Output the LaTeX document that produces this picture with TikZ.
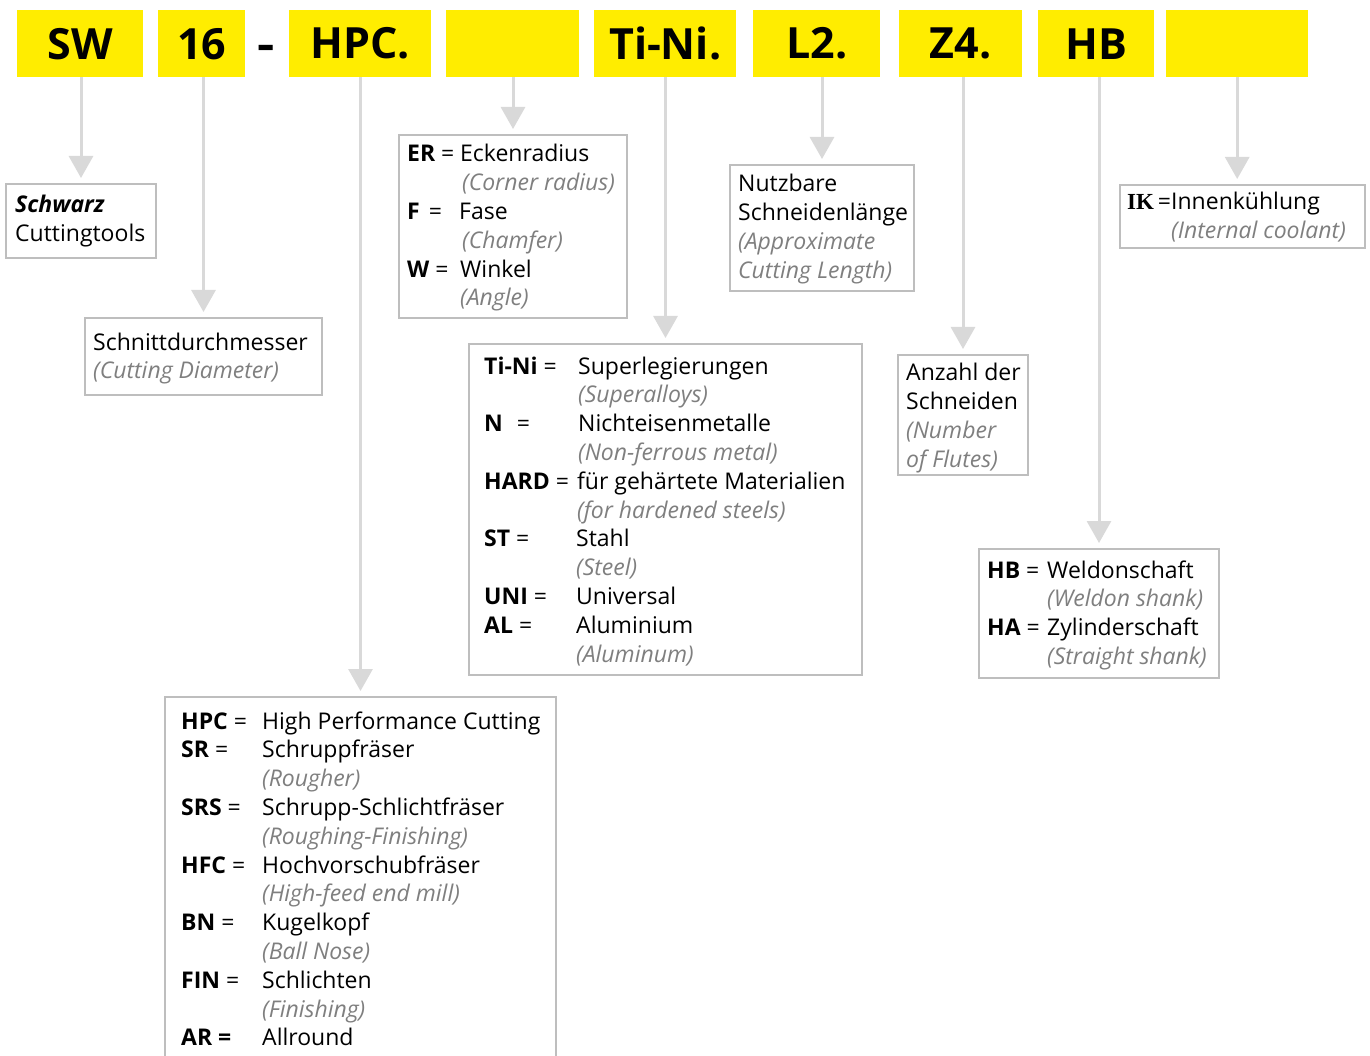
\documentclass[tikz,border=0pt]{standalone}
\usepackage{fontspec}
\setmainfont{Open Sans}
\newfontfamily\hdrfont{Open Sans}
\newfontfamily\ikfont{Liberation Serif}
\usetikzlibrary{arrows.meta}
\definecolor{yel}{HTML}{FFED00}
\definecolor{boxgrey}{HTML}{BEBEBE}
\definecolor{linegrey}{HTML}{D9D9D9}
\definecolor{engrey}{HTML}{7F7F7F}
\newcommand\en[1]{{\color{engrey}\itshape #1}}
\newcommand\kk[2]{\makebox[#1][l]{#2}}
\begin{document}
\begin{tikzpicture}[x=1pt,y=-1pt,
  hdr/.style={fill=yel, inner sep=0, anchor=north west, minimum height=67pt,
    font=\hdrfont\bfseries\fontsize{43}{43}\selectfont, text=black},
  box/.style={draw=boxgrey, line width=2pt, inner sep=0, anchor=north west, fill=white},
  txt/.style={inner sep=0, anchor=base west, font=\fontsize{23}{28.8}\selectfont},
  conn/.style={draw=linegrey, line width=3pt, -{Triangle[width=24pt,length=22pt]}, shorten >=5pt}]
\clip (0,0) rectangle (1370,1056);
\fill[white] (0,0) rectangle (1370,1056);

% header
\node[hdr, minimum width=126pt] (hSW) at (17,10) {SW};
\node[hdr, minimum width=87pt] (h16) at (158,10) {16};
\node[inner sep=0, anchor=base, font=\hdrfont\bfseries\fontsize{43}{43}\selectfont] (hdash) at (266.5,60) {\scalebox{1.25}[1]{-}};
\node[hdr, minimum width=142pt] (hHPC) at (289,10) {HPC.};
\node[hdr, minimum width=133pt] (hB1) at (446,10) {};
\node[hdr, minimum width=142pt] (hTN) at (594,10) {Ti-Ni.};
\node[hdr, minimum width=127pt] (hL2) at (753,10) {L2.};
\node[hdr, minimum width=123pt] (hZ4) at (899,10) {Z4.};
\node[hdr, minimum width=116pt] (hHB) at (1038,10) {HB};
\node[hdr, minimum width=142pt] (hB2) at (1166,10) {};

% boxes
\node[box, minimum width=150pt, minimum height=74pt] (bSW) at (5,183) {};
\node[box, minimum width=237pt, minimum height=77pt] (b16) at (84,317) {};
\node[box, minimum width=391pt, minimum height=380pt] (bHPC) at (164,696) {};
\node[box, minimum width=228pt, minimum height=183pt] (bER) at (398,134) {};
\node[box, minimum width=393pt, minimum height=331pt] (bTN) at (468,343) {};
\node[box, minimum width=184pt, minimum height=126pt] (bL2) at (729,164) {};
\node[box, minimum width=130pt, minimum height=120pt] (bZ4) at (897,354) {};
\node[box, minimum width=240pt, minimum height=129pt] (bHB) at (978,548) {};
\node[box, minimum width=245pt, minimum height=63pt] (bIK) at (1119,184) {};

% connectors
\draw[conn] (hSW.south -| bSW.north) -- (bSW.north);
\draw[conn] (h16.south -| b16.north) -- (b16.north);
\draw[conn] (hHPC.south -| bHPC.north) -- (bHPC.north);
\draw[conn] (hB1.south -| bER.north) -- (bER.north);
\draw[conn] (hTN.south -| bTN.north) -- (bTN.north);
\draw[conn] (hL2.south -| bL2.north) -- (bL2.north);
\draw[conn] (hZ4.south -| bZ4.north) -- (bZ4.north);
\draw[conn] (hHB.south -| bHB.north) -- (bHB.north);
\draw[conn] (hB2.south) -- (hB2.south |- bIK.north);

% texts
\node[txt] (tSW) at (15,213) {\begin{tabular}[t]{@{}l@{}}\textbf{\textit{Schwarz}}\\Cuttingtools\end{tabular}};
\node[txt] (t16) at (93,350) {\begin{tabular}[t]{@{}l@{}}Schnittdurchmesser\\\en{(Cutting Diameter)}\end{tabular}};
\node[txt] (tER) at (407,162) {\begin{tabular}[t]{@{}l@{}}\kk{53pt}{\textbf{ER} =}Eckenradius\\
  \kk{55pt}{}\en{(Corner radius)}\\
  \kk{52pt}{\textbf{F}\hspace{9pt}=}Fase\\
  \kk{55pt}{}\en{(Chamfer)}\\
  \kk{53pt}{\textbf{W} =}Winkel\\
  \kk{53pt}{}\en{(Angle)}\end{tabular}};
\node[txt] (tL2) at (738,192) {\begin{tabular}[t]{@{}l@{}}Nutzbare\\Schneidenlänge\\\en{(Approximate}\\\en{Cutting Length)}\end{tabular}};
\node[txt] (tZ4) at (906,381) {\begin{tabular}[t]{@{}l@{}}Anzahl der\\Schneiden\\\en{(Number}\\\en{of Flutes)}\end{tabular}};
\node[txt] (tIK) at (1127,210) {\begin{tabular}[t]{@{}l@{}}\kk{44pt}{{\ikfont\bfseries IK}\,=}Innenkühlung\\
  \kk{44pt}{}\en{(Internal coolant)}\end{tabular}};
\node[txt] (tTN) at (484,374) {\begin{tabular}[t]{@{}l@{}}\kk{94pt}{\textbf{Ti-Ni} =}Superlegierungen\\
  \kk{94pt}{}\en{(Superalloys)}\\
  \kk{94pt}{\textbf{N}\hspace{14pt}=}Nichteisenmetalle\\
  \kk{94pt}{}\en{(Non-ferrous metal)}\\
  \kk{93pt}{\textbf{HARD} =}für gehärtete Materialien\\
  \kk{93pt}{}\en{(for hardened steels)}\\
  \kk{92pt}{\textbf{ST} =}Stahl\\
  \kk{92pt}{}\en{(Steel)}\\
  \kk{92pt}{\textbf{UNI} =}Universal\\
  \kk{92pt}{\textbf{AL} =}Aluminium\\
  \kk{92pt}{}\en{(Aluminum)}\end{tabular}};
\node[txt] (tHB) at (987,578) {\begin{tabular}[t]{@{}l@{}}\kk{60pt}{\textbf{HB} =}Weldonschaft\\
  \kk{60pt}{}\en{(Weldon shank)}\\
  \kk{60pt}{\textbf{HA} =}Zylinderschaft\\
  \kk{60pt}{}\en{(Straight shank)}\end{tabular}};
\node[txt] (tHPC) at (181,729) {\begin{tabular}[t]{@{}l@{}}\kk{81pt}{\textbf{HPC} =}High Performance Cutting\\
  \kk{81pt}{\textbf{SR} =}Schruppfräser\\
  \kk{81pt}{}\en{(Rougher)}\\
  \kk{81pt}{\textbf{SRS} =}Schrupp-Schlichtfräser\\
  \kk{81pt}{}\en{(Roughing-Finishing)}\\
  \kk{81pt}{\textbf{HFC} =}Hochvorschubfräser\\
  \kk{81pt}{}\en{(High-feed end mill)}\\
  \kk{81pt}{\textbf{BN} =}Kugelkopf\\
  \kk{81pt}{}\en{(Ball Nose)}\\
  \kk{81pt}{\textbf{FIN} =}Schlichten\\
  \kk{81pt}{}\en{(Finishing)}\\
  \kk{81pt}{\textbf{AR =}}Allround\end{tabular}};
\end{tikzpicture}
\end{document}
